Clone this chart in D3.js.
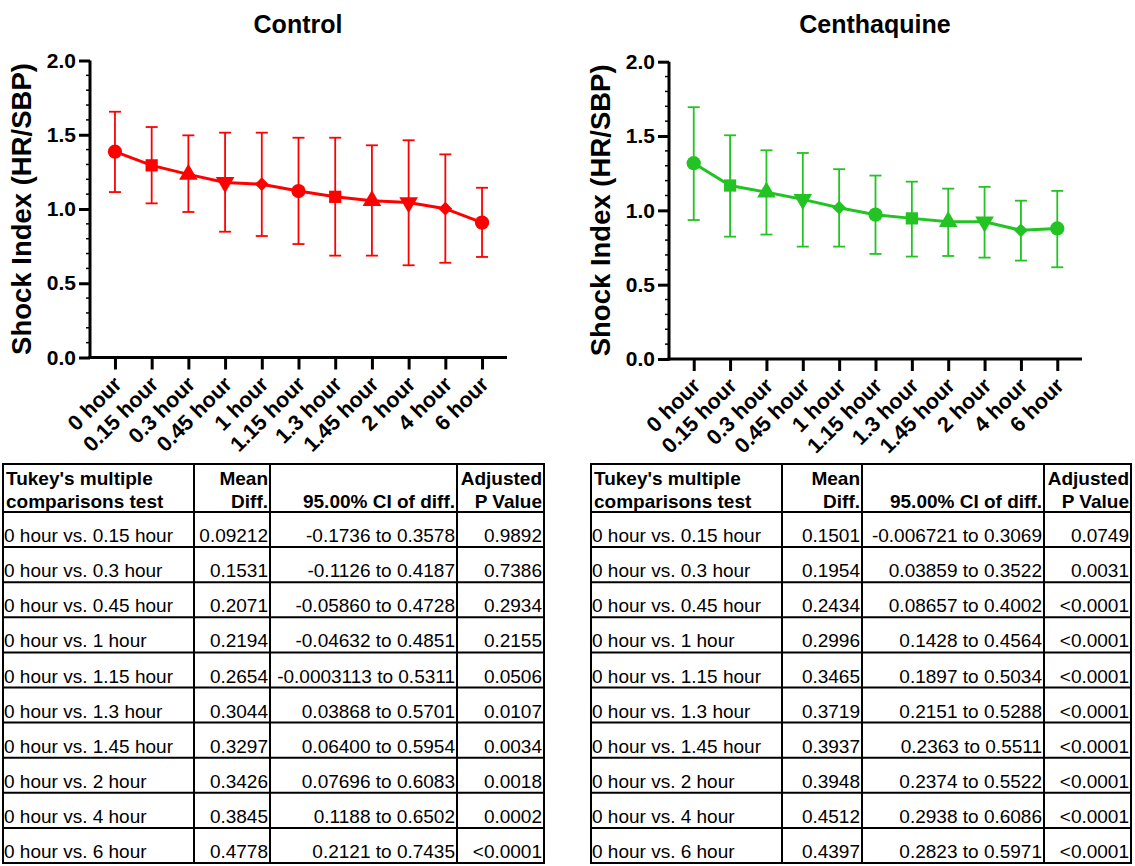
<!DOCTYPE html>
<html>
<head>
<meta charset="utf-8">
<script src="https://cdn.jsdelivr.net/npm/d3@7"></script>
<style>
  body { margin: 0; background: #fff; }
  svg { font-family: "Liberation Sans", Arial, sans-serif; }
</style>
</head>
<body>
<svg id="chart" width="1135" height="866"></svg>
<script>
const timeLabels = ["0 hour", "0.15 hour", "0.3 hour", "0.45 hour", "1 hour", "1.15 hour",
  "1.3 hour", "1.45 hour", "2 hour", "4 hour", "6 hour"];

const controlMean = [1.386, 1.294, 1.233, 1.179, 1.167, 1.121, 1.082, 1.056, 1.043, 1.002, 0.908];
const controlUpper = [1.655, 1.552, 1.496, 1.514, 1.514, 1.48, 1.48, 1.429, 1.463, 1.368, 1.143];
const controlLower = [1.114, 1.038, 0.98, 0.847, 0.818, 0.764, 0.686, 0.686, 0.621, 0.638, 0.677];

const centhMean = [1.317, 1.167, 1.122, 1.074, 1.018, 0.971, 0.946, 0.924, 0.923, 0.866, 0.878];
const centhUpper = [1.694, 1.505, 1.404, 1.386, 1.277, 1.234, 1.193, 1.146, 1.158, 1.065, 1.131];
const centhLower = [0.935, 0.823, 0.837, 0.756, 0.756, 0.707, 0.689, 0.693, 0.682, 0.662, 0.617];

const yTicks = [0, 0.5, 1.0, 1.5, 2.0];

const tableHeader = [["Tukey's multiple", "comparisons test"], ["Mean", "Diff."], ["", "95.00% CI of diff."], ["Adjusted", "P Value"]];
const comparisons = ["0 hour vs. 0.15 hour", "0 hour vs. 0.3 hour", "0 hour vs. 0.45 hour", "0 hour vs. 1 hour",
  "0 hour vs. 1.15 hour", "0 hour vs. 1.3 hour", "0 hour vs. 1.45 hour", "0 hour vs. 2 hour",
  "0 hour vs. 4 hour", "0 hour vs. 6 hour"];

const controlDiff = ["0.09212", "0.1531", "0.2071", "0.2194", "0.2654", "0.3044", "0.3297", "0.3426", "0.3845", "0.4778"];
const controlCI = ["-0.1736 to 0.3578", "-0.1126 to 0.4187", "-0.05860 to 0.4728", "-0.04632 to 0.4851",
  "-0.0003113 to 0.5311", "0.03868 to 0.5701", "0.06400 to 0.5954", "0.07696 to 0.6083",
  "0.1188 to 0.6502", "0.2121 to 0.7435"];
const controlP = ["0.9892", "0.7386", "0.2934", "0.2155", "0.0506", "0.0107", "0.0034", "0.0018", "0.0002", "<0.0001"];

const centhDiff = ["0.1501", "0.1954", "0.2434", "0.2996", "0.3465", "0.3719", "0.3937", "0.3948", "0.4512", "0.4397"];
const centhCI = ["-0.006721 to 0.3069", "0.03859 to 0.3522", "0.08657 to 0.4002", "0.1428 to 0.4564",
  "0.1897 to 0.5034", "0.2151 to 0.5288", "0.2363 to 0.5511", "0.2374 to 0.5522",
  "0.2938 to 0.6086", "0.2823 to 0.5971"];
const centhP = ["0.0749", "0.0031", "<0.0001", "<0.0001", "<0.0001", "<0.0001", "<0.0001", "<0.0001", "<0.0001", "<0.0001"];

const svg = d3.select("#chart");

// prism style marker cycle
const markers = [
  { type: d3.symbolCircle, size: 160, rot: 0 },
  { type: d3.symbolSquare, size: 150, rot: 0 },
  { type: d3.symbolTriangle, size: 150, rot: 0 },
  { type: d3.symbolTriangle, size: 150, rot: 180 },
  { type: d3.symbolSquare, size: 95, rot: 45 },
];

function drawPanel(opts) {
  const { title, titleX, axisX, axisRight, yTop, yBottom, color, mean, upper, lower } = opts;
  const g = svg.append("g");

  const x = d3.scalePoint().domain(timeLabels).range([axisX, axisRight]).padding(0.68);
  const y = d3.scaleLinear().domain([0, 2]).range([yBottom, yTop]);

  g.append("text")
    .attr("x", titleX).attr("y", 33)
    .attr("text-anchor", "middle")
    .style("font-size", "25px").style("font-weight", "bold")
    .text(title);

  // y axis
  const yAxis = g.append("g")
    .attr("transform", `translate(${axisX},0)`)
    .call(d3.axisLeft(y).tickValues(yTicks).tickFormat(d3.format(".1f")).tickSize(11).tickPadding(3).tickSizeOuter(0));
  yAxis.select(".domain").attr("stroke-width", 3).attr("d", `M0,${yBottom + 1.5}V${yTop}`);
  yAxis.selectAll(".tick line").attr("stroke-width", 3);
  yAxis.selectAll(".tick text").style("font-size", "21px").style("font-weight", "bold").attr("fill", "#000");

  // minor y ticks
  g.append("g").selectAll("line")
    .data(d3.range(0, 2.01, 0.1).filter((d) => Math.round(d * 10) % 5 !== 0))
    .join("line")
    .attr("x1", axisX - 4).attr("x2", axisX)
    .attr("y1", (d) => y(d)).attr("y2", (d) => y(d))
    .attr("stroke", "#000").attr("stroke-width", 1.5);

  // x axis
  const xAxis = g.append("g")
    .attr("transform", `translate(0,${yBottom})`)
    .call(d3.axisBottom(x).tickSize(12).tickSizeOuter(0).tickFormat(""));
  xAxis.select(".domain").attr("stroke-width", 3).attr("d", `M${axisX - 1.5},0H${axisRight}`);
  xAxis.selectAll(".tick line").attr("stroke-width", 3);

  g.append("g").selectAll("text")
    .data(timeLabels)
    .join("text")
    .attr("transform", (d) => `translate(${x(d) + 8},${yBottom + 28}) rotate(-45)`)
    .attr("text-anchor", "end")
    .style("font-size", "21.5px").style("font-weight", "bold")
    .text((d) => d);

  // y title
  g.append("text")
    .attr("transform", `translate(${axisX - 59},${(yTop + yBottom) / 2}) rotate(-90)`)
    .attr("text-anchor", "middle")
    .style("font-size", "27.5px").style("font-weight", "bold")
    .text("Shock Index (HR/SBP)");

  // error bars
  const bars = g.append("g").attr("stroke", color).attr("stroke-width", 1.8);
  timeLabels.forEach((t, i) => {
    const cx = x(t);
    bars.append("line").attr("x1", cx).attr("x2", cx).attr("y1", y(upper[i])).attr("y2", y(lower[i]));
    bars.append("line").attr("x1", cx - 6).attr("x2", cx + 6).attr("y1", y(upper[i])).attr("y2", y(upper[i]));
    bars.append("line").attr("x1", cx - 6).attr("x2", cx + 6).attr("y1", y(lower[i])).attr("y2", y(lower[i]));
  });

  const line = d3.line().x((d, i) => x(timeLabels[i])).y((d) => y(d));
  g.append("path")
    .datum(mean)
    .attr("d", line)
    .attr("fill", "none")
    .attr("stroke", color)
    .attr("stroke-width", 3);

  g.append("g").selectAll("path")
    .data(mean)
    .join("path")
    .attr("d", (d, i) => d3.symbol().type(markers[i % 5].type).size(markers[i % 5].size)())
    .attr("transform", (d, i) => `translate(${x(timeLabels[i])},${y(d)}) rotate(${markers[i % 5].rot})`)
    .attr("fill", color);
}

function drawTable(opts) {
  const { cols, top, headerBottom, bottom, diff, ci, p } = opts;
  const g = svg.append("g");
  const rowH = (bottom - headerBottom) / comparisons.length;

  // header
  tableHeader.forEach((lines, c) => {
    lines.forEach((txt, k) => {
      if (!txt) return;
      g.append("text")
        .attr("x", c === 0 ? cols[0] + 3 : cols[c + 1] - 2)
        .attr("y", headerBottom - 27 + k * 23)
        .attr("text-anchor", c === 0 ? "start" : "end")
        .style("font-size", "19px").style("font-weight", "bold")
        .text(txt);
    });
  });

  comparisons.forEach((name, i) => {
    const base = headerBottom + (i + 1) * rowH - 5;
    const vals = [name, diff[i], ci[i], p[i]];
    vals.forEach((v, c) => {
      g.append("text")
        .attr("x", c === 0 ? cols[0] + 1 : cols[c + 1] - 2)
        .attr("y", base)
        .attr("text-anchor", c === 0 ? "start" : "end")
        .style("font-size", "19px")
        .text(v);
    });
  });

  // grid
  const rowLines = [top, headerBottom].concat(d3.range(1, comparisons.length + 1).map((i) => headerBottom + i * rowH));
  g.append("g").selectAll("line")
    .data(rowLines)
    .join("line")
    .attr("x1", cols[0]).attr("x2", cols[cols.length - 1])
    .attr("y1", (d) => d).attr("y2", (d) => d)
    .attr("stroke", "#000").attr("stroke-width", 2);
  g.append("g").selectAll("line")
    .data(cols)
    .join("line")
    .attr("x1", (d) => d).attr("x2", (d) => d)
    .attr("y1", top - 1).attr("y2", bottom + 1)
    .attr("stroke", "#000").attr("stroke-width", 2);
}

drawPanel({
  title: "Control", titleX: 298, axisX: 90, axisRight: 507, yTop: 60.5, yBottom: 357.5,
  color: "#ff0000", mean: controlMean, upper: controlUpper, lower: controlLower,
});
drawPanel({
  title: "Centhaquine", titleX: 875, axisX: 669, axisRight: 1082, yTop: 61.7, yBottom: 359,
  color: "#22c322", mean: centhMean, upper: centhUpper, lower: centhLower,
});

drawTable({ cols: [3, 194, 270, 457, 544], top: 464, headerBottom: 512, bottom: 863,
  diff: controlDiff, ci: controlCI, p: controlP });
drawTable({ cols: [591, 782, 862, 1044, 1131], top: 464, headerBottom: 512, bottom: 863,
  diff: centhDiff, ci: centhCI, p: centhP });
</script>
</body>
</html>
